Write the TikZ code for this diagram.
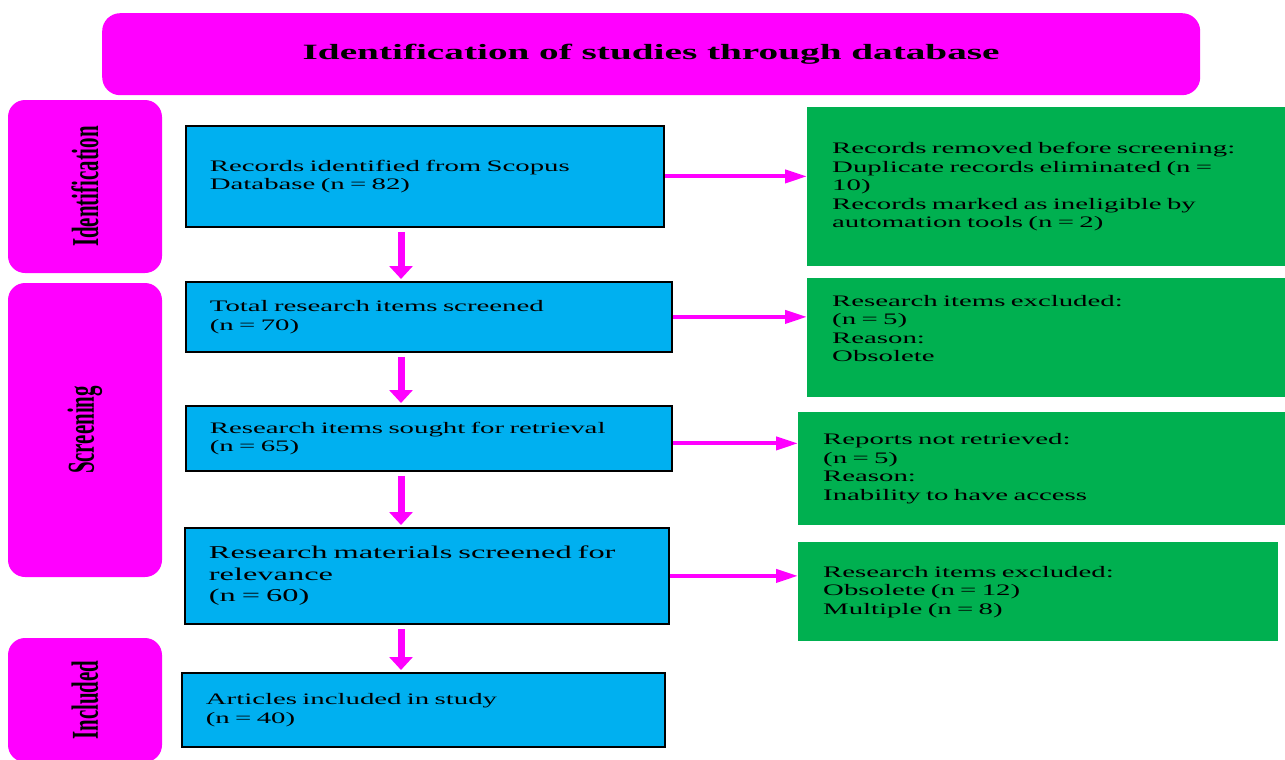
\documentclass[tikz,border=0pt]{standalone}
\usepackage{fontspec}
\setmainfont{Liberation Serif}[FakeStretch=1.8]
\newfontfamily\sidefont{Liberation Serif}[FakeStretch=0.55]
\usetikzlibrary{arrows.meta}
\definecolor{stagepink}{HTML}{FF00FF}
\definecolor{boxblue}{HTML}{00B0F0}
\definecolor{boxgreen}{HTML}{00B050}

\begin{document}
\begin{tikzpicture}[x=1pt,y=-1pt,font=\fontsize{16}{18.5}\selectfont,
  stage/.style={fill=stagepink,rounded corners=17pt,inner sep=0pt,rotate=90,
    font=\sidefont\bfseries\fontsize{38}{40}\selectfont},
  recbox/.style={draw=black,line width=1.8pt,fill=boxblue,anchor=north west,
    inner xsep=24pt,inner ysep=0pt,align=left},
  outbox/.style={fill=boxgreen,anchor=north west,inner xsep=25pt,inner ysep=0pt,align=left},
  hflow/.style={draw=stagepink,line width=4pt,-{Triangle[length=22pt,width=13pt]}},
  vflow/.style={draw=stagepink,line width=7pt,-{Triangle[length=13pt,width=23pt]},
    shorten <=4pt,shorten >=2pt}]
\clip (0,0) rectangle (1285,760);
\useasboundingbox (0,0) rectangle (1285,760);

\node[fill=stagepink,rounded corners=18pt,anchor=north west,minimum width=1098,
  minimum height=82,font=\bfseries\fontsize{21.8}{24}\selectfont] (title) at (102,13)
  {Identification of studies through database};

% stages at the left
\node[stage,minimum width=173,minimum height=154] (ident) at (85,186.5) {Identification};
\node[stage,minimum width=294,minimum height=154] (screen) at (85,430) {Screening};
\node[stage,minimum width=124,minimum height=154] (incl) at (85,700) {Included};

% main column
\node[recbox,minimum height=101,text width=430] (found) at (185,125)
  {Records identified from Scopus\\Database (n = 82)};
\node[recbox,minimum height=70,text width=438] (screened) at (185,281)
  {Total research items screened\\(n = 70)};
\node[recbox,minimum height=65,text width=438] (sought) at (185,405)
  {Research items sought for retrieval\\(n = 65)};
\node[recbox,minimum height=96,text width=436,font=\fontsize{18}{21.5}\selectfont] (relevant) at (184,527)
  {Research materials screened for\\relevance\\(n = 60)};
\node[recbox,minimum height=74,text width=435] (included) at (181,672)
  {Articles included in study\\(n = 40)};

% side column
\node[outbox,minimum height=159,text width=428] (removed) at (807,107)
  {Records removed before screening:\\Duplicate records eliminated (n =\\10)\\Records marked as ineligible by\\automation tools (n = 2)};
\node[outbox,minimum height=119,text width=428] (excl) at (807,278)
  {Research items excluded:\\(n = 5)\\Reason:\\Obsolete\\\mbox{}};
\node[outbox,minimum height=113,text width=437] (notret) at (798,412)
  {Reports not retrieved:\\(n = 5)\\Reason:\\Inability to have access};
\node[outbox,minimum height=99,text width=430] (exclb) at (798,542)
  {Research items excluded:\\Obsolete (n = 12)\\Multiple (n = 8)};

\coordinate (col) at (401,0);
\draw[vflow] (found.south -| col) -- (screened.north -| col);
\draw[vflow] (screened.south -| col) -- (sought.north -| col);
\draw[vflow] (sought.south -| col) -- (relevant.north -| col);
\draw[vflow] (relevant.south -| col) -- (included.north -| col);

\draw[hflow] (found.east) -- (found.east -| removed.west);
\draw[hflow] (screened.east) -- (screened.east -| excl.west);
\draw[hflow] ([yshift=-5]sought.east) -- ([yshift=-5]sought.east -| notret.west);
\draw[hflow] (relevant.east) -- (relevant.east -| exclb.west);
\end{tikzpicture}
\end{document}
